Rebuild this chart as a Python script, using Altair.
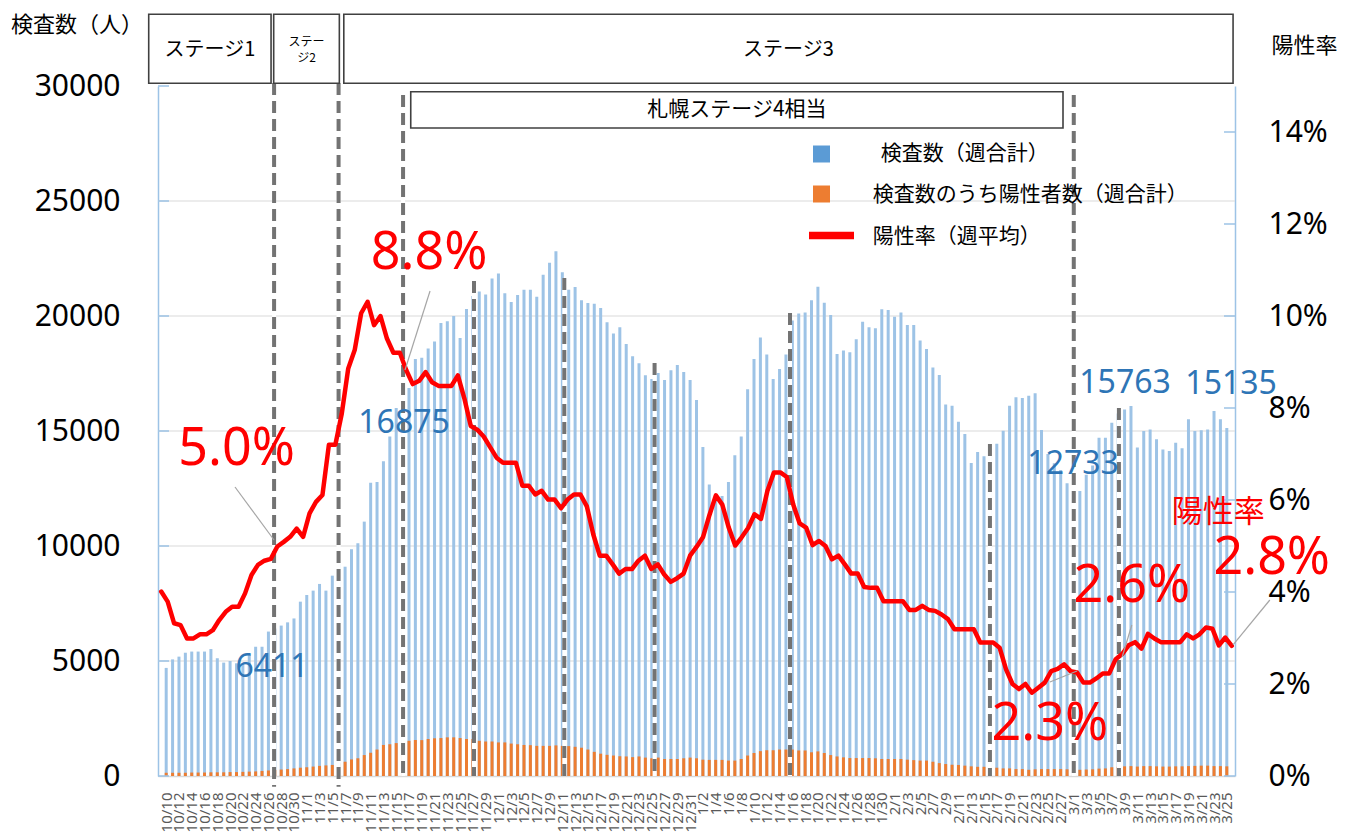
import altair as alt
import pandas as pd

N_DAYS = 167

# weekly total of tests (blue bars), one per day from 10/10 to 3/25
tests = [
    4700, 5070, 5190, 5360, 5410, 5410, 5410, 5520, 5120, 4930,
    5000, 4900, 4900, 5260, 5620, 5620, 6280, 6411, 6540, 6680,
    6850, 7580, 7870, 8060, 8350, 8060, 8710, 9220, 9100, 9860,
    10120, 11060, 12750, 12780, 13690, 14760, 16000, 15970, 16875, 18130,
    18180, 18590, 18890, 19700, 19770, 20000, 19040, 20300, 20870, 21060,
    20940, 21630, 21850, 20990, 20610, 20910, 21140, 21140, 20840, 21790,
    22310, 22810, 21900, 21140, 21260, 20680, 20560, 20530, 20350, 19730,
    19240, 19510, 18780, 18250, 17950, 17420, 17260, 17520, 17220, 17640,
    17870, 17570, 17220, 16350, 14300, 12670, 12170, 12170, 12780, 13950,
    14760, 16810, 18130, 19060, 18330, 17260, 17700, 18330, 19800, 20110,
    20150, 20690, 21270, 20580, 20040, 18350, 18500, 18420, 18990, 19750,
    19510, 19470, 20290, 20260, 19970, 20150, 19610, 19610, 18930, 18570,
    17760, 17430, 16150, 16100, 15400, 14870, 13610, 14090, 13900, 14040,
    14450, 15010, 16100, 16470, 16430, 16530, 16640, 15040, 14000, 13600,
    13300, 12733, 12400, 12390, 13100, 13500, 14710, 14710, 15360, 15763,
    15940, 16090, 14280, 15000, 15070, 14640, 14200, 14130, 14490, 14250,
    15510, 15000, 15030, 15070, 15870, 15510, 15135,
]

# weekly total of positives among tests (orange bars)
positives = [
    140, 140, 140, 140, 150, 150, 150, 160, 160, 160,
    170, 170, 180, 190, 200, 220, 240, 260, 280, 300,
    330, 360, 380, 410, 440, 460, 480, 550, 620, 720,
    770, 910, 1010, 1150, 1350, 1380, 1430, 1460, 1530, 1560,
    1560, 1610, 1640, 1650, 1680, 1680, 1650, 1610, 1610, 1530,
    1500, 1500, 1460, 1460, 1410, 1380, 1350, 1340, 1310, 1310,
    1310, 1330, 1310, 1300, 1270, 1230, 1150, 1050, 970, 920,
    890, 860, 850, 820, 850, 800, 770, 800, 740, 740,
    740, 770, 800, 770, 710, 700, 700, 700, 670, 670,
    740, 890, 1000, 1080, 1120, 1120, 1150, 1150, 1150, 1110,
    1110, 1030, 1070, 1000, 910, 850, 810, 780, 780, 780,
    780, 770, 740, 740, 740, 740, 710, 690, 670, 670,
    620, 560, 520, 490, 480, 450, 420, 400, 400, 390,
    360, 330, 330, 300, 300, 270, 290, 300, 300, 300,
    300, 290, 280, 270, 280, 290, 320, 330, 380, 400,
    420, 430, 410, 430, 430, 420, 410, 410, 420, 420,
    430, 440, 450, 450, 430, 430, 420,
]

# weekly average positivity rate (%), red line
rate = [
    4.01, 3.79, 3.32, 3.28, 2.99, 2.99, 3.08, 3.08, 3.17, 3.39,
    3.57, 3.68, 3.68, 3.97, 4.37, 4.59, 4.68, 4.72, 4.99, 5.09,
    5.20, 5.38, 5.20, 5.71, 5.96, 6.11, 7.20, 7.20, 7.88, 8.86,
    9.26, 10.06, 10.31, 9.80, 10.00, 9.51, 9.20, 9.20, 8.82, 8.52,
    8.59, 8.78, 8.56, 8.48, 8.48, 8.48, 8.71, 8.21, 7.61, 7.53,
    7.38, 7.15, 6.92, 6.81, 6.81, 6.81, 6.31, 6.31, 6.12, 6.20,
    6.01, 6.01, 5.82, 6.01, 6.12, 6.12, 5.86, 5.25, 4.79, 4.79,
    4.60, 4.40, 4.50, 4.50, 4.68, 4.79, 4.50, 4.60, 4.38, 4.22,
    4.30, 4.40, 4.79, 4.98, 5.19, 5.67, 6.10, 5.90, 5.40, 5.01,
    5.19, 5.39, 5.69, 5.59, 6.20, 6.60, 6.60, 6.50, 5.90, 5.49,
    5.40, 5.02, 5.11, 5.00, 4.71, 4.79, 4.60, 4.40, 4.40, 4.11,
    4.09, 4.09, 3.80, 3.80, 3.80, 3.80, 3.61, 3.61, 3.70, 3.61,
    3.59, 3.51, 3.41, 3.19, 3.19, 3.19, 3.19, 2.90, 2.90, 2.90,
    2.79, 2.32, 2.00, 1.89, 2.00, 1.81, 1.92, 2.03, 2.28, 2.33,
    2.43, 2.28, 2.25, 2.03, 2.03, 2.12, 2.23, 2.23, 2.54, 2.65,
    2.84, 2.91, 2.77, 3.09, 2.99, 2.91, 2.91, 2.91, 2.91, 3.08,
    2.99, 3.08, 3.23, 3.20, 2.84, 3.01, 2.83,
]

assert len(tests) == N_DAYS and len(positives) == N_DAYS and len(rate) == N_DAYS

dates = pd.date_range("2020-10-10", periods=N_DAYS)
tick_days = list(range(0, N_DAYS, 2))
tick_labels = [f"{dates[d].month}/{dates[d].day}" for d in tick_days]

left_ticks = [0, 5000, 10000, 15000, 20000, 25000, 30000]
grid_values = [5000, 10000, 15000, 20000, 25000]
right_ticks = [0, 2, 4, 6, 8, 10, 12, 14]

# stage-change dashed lines (day index, top in test units, bottom)
dash_day = [17.5, 27.5, 37.5, 48.5, 62.5, 76.5, 97.5, 128.5, 141.5, 148.5]
dash_top = [30130, 30130, 29610, 21520, 21650, 17960, 20130, 14430, 29610, 16000]
dash_bottom = [-470, -470, 0, 0, 0, 0, 0, 0, 0, 0]

# stage boxes
box_x1 = [-1.94, 17.44, 28.31, 38.69]
box_x2 = [17.03, 27.62, 166.2, 139.83]
box_y1 = [30117, 30117, 30117, 28174]
box_y2 = [33117, 33117, 33117, 29752]
stage_text = ["ステージ1", "ステー", "ジ2", "ステージ3", "札幌ステージ4相当"]
stage_tx = [7.55, 22.53, 22.53, 97.26, 89.27]
stage_ty = [31565, 31913, 31217, 31565, 28957]
stage_size = [20, 12, 12, 20, 21]

# red percentage call-outs
pct_text = ["5.0%", "8.8%", "2.3%", "2.6%", "2.8%"]
pct_x = [11.68, 41.53, 137.8, 150.5, 172.2]
pct_y = [14217, 22739, 2261, 8261, 9478]
leader_x1 = [11.44, 41.68, 137.8, 150.5, 171.9]
leader_y1 = [12565, 21087, 4087, 6565, 7652]
leader_x2 = [17.49, 37.8, 142.0, 149.0, 166.2]
leader_y2 = [10261, 17652, 4565, 5174, 5696]

# blue value labels
label_days = [17, 38, 141, 149, 166]
label_x = [17.18, 37.65, 141.4, 149.45, 165.9]
label_y = [4739, 15348, 13565, 17087, 17043]

W, H = 1077, 690

main = pd.DataFrame({"day": list(range(N_DAYS)), "tests": tests, "pos": positives, "rate": rate})

xs = alt.Scale(domain=[-0.5, N_DAYS - 0.5], nice=False, zero=False)
yl = alt.Scale(domain=[0, 30000], nice=False, zero=False)
yr = alt.Scale(domain=[0, 15], nice=False, zero=False)

def X(f):
    return alt.X(f, type="quantitative", scale=xs, axis=None)

def YL(f):
    return alt.Y(f, type="quantitative", scale=yl, axis=None)

def PX(f):
    return alt.X(f, type="quantitative", scale=None, axis=None)

def PY(f):
    return alt.Y(f, type="quantitative", scale=None, axis=None)

label_array = "[" + ",".join(f"'{t}'" for t in tick_labels) + "]"

x_axis = alt.Axis(
    orient="bottom", values=tick_days, labelExpr=label_array + "[round(datum.value/2)]",
    labelAngle=270, labelAlign="right", labelBaseline="middle",
    labelFont="Noto Sans", labelFontSize=15, labelColor="#595959", labelPadding=16,
    ticks=False, domainColor="#d9d9d9", domainWidth=1.5, grid=False, title=None,
    labelOverlap=False, labelFlush=False, labelBound=False,
)
left_axis = alt.Axis(
    orient="left", values=left_ticks, format="d", labelFont="Noto Sans", labelFontSize=30,
    labelColor="#000000", labelPadding=38, ticks=False, domainColor="#9dc3e6",
    domainWidth=1.5, grid=False, title=None, labelFlush=False, labelOverlap=False,
    labelBound=False,
)
right_axis = alt.Axis(
    orient="right", values=right_ticks, labelExpr="datum.value + '%'",
    labelFont="Noto Sans", labelFontSize=30, labelColor="#000000", labelPadding=33,
    ticks=False, domainColor="#9dc3e6", domainWidth=1.5, grid=False, title=None,
    labelFlush=False, labelOverlap=False, labelBound=False,
)

grid = alt.Chart(pd.DataFrame({"v": grid_values})).mark_rule(
    color="#d9d9d9", strokeWidth=1.2
).encode(x=alt.value(0), x2=alt.value(W), y=YL("v"))

blue = alt.Chart(main).mark_bar(color="#9dc3e6", size=3, orient="vertical").encode(
    x=alt.X("day:Q", scale=xs, axis=x_axis),
    y=alt.Y("tests:Q", scale=yl, axis=left_axis),
)
orange = alt.Chart(main).mark_bar(color="#ed7d31", size=3, orient="vertical").encode(
    x=X("day"), y=YL("pos")
)

dash_df = pd.DataFrame({"day": dash_day, "top": dash_top, "bottom": dash_bottom})
dash_white = alt.Chart(dash_df).mark_rule(color="#ffffff", strokeWidth=4).encode(
    x=X("day"), y=YL("top"), y2="bottom:Q"
)
dash_gray = alt.Chart(dash_df).mark_rule(
    color="#737373", strokeWidth=4, strokeDash=[12, 6]
).encode(x=X("day"), y=YL("top"), y2="bottom:Q")

line = alt.Chart(main).mark_line(
    color="#ff0000", strokeWidth=4.5, strokeJoin="round", strokeCap="round"
).encode(x=X("day"), y=alt.Y("rate:Q", scale=yr, axis=right_axis))

# inward tick marks of both value axes
lt = alt.Chart(pd.DataFrame({"v": left_ticks})).mark_rule(color="#9dc3e6", strokeWidth=1.5).encode(
    x=alt.value(0), x2=alt.value(11), y=YL("v")
)
rt = alt.Chart(pd.DataFrame({"v": right_ticks})).mark_rule(color="#9dc3e6", strokeWidth=1.5).encode(
    x=alt.value(W - 11), x2=alt.value(W), y=alt.Y("v:Q", scale=yr, axis=None)
)

box_df = pd.DataFrame({"x1": box_x1, "x2": box_x2, "y1": box_y1, "y2": box_y2})
boxes = alt.Chart(box_df).mark_rect(fill="#ffffff", stroke="#404040", strokeWidth=1.6).encode(
    x=X("x1"), x2="x2:Q", y=YL("y1"), y2="y2:Q"
)
stage_df = pd.DataFrame({"t": stage_text, "x": stage_tx, "y": stage_ty, "s": stage_size})
stage_txt = alt.Chart(stage_df).mark_text(
    font="Noto Sans CJK JP", color="#000000", align="center", baseline="middle"
).encode(x=X("x"), y=YL("y"), text="t:N", size=alt.Size("s:Q", scale=None, legend=None))

leader_df = pd.DataFrame({"x1": leader_x1, "y1": leader_y1, "x2": leader_x2, "y2": leader_y2})
leaders = alt.Chart(leader_df).mark_rule(color="#a6a6a6", strokeWidth=1.2).encode(
    x=X("x1"), y=YL("y1"), x2="x2:Q", y2="y2:Q"
)

pct_df = pd.DataFrame({"t": pct_text, "x": pct_x, "y": pct_y})
pct_txt = alt.Chart(pct_df).mark_text(
    font="Noto Sans", fontSize=52, color="#ff0000", align="center", baseline="middle"
).encode(x=X("x"), y=YL("y"), text="t:N")

rate_word = alt.Chart(pd.DataFrame({"t": ["陽性率"], "x": [163.9], "y": [11450]})).mark_text(
    font="Noto Sans CJK JP", fontSize=31, color="#ff0000", align="center", baseline="middle"
).encode(x=X("x"), y=YL("y"), text="t:N")

val_df = pd.DataFrame({"t": [str(tests[d]) for d in label_days], "x": label_x, "y": label_y})
val_txt = alt.Chart(val_df).mark_text(
    font="Noto Sans", fontSize=32, color="#2e75b6", align="center", baseline="middle"
).encode(x=X("x"), y=YL("y"), text="t:N")

# legend (pixel positions relative to the plot area)
leg_sq = alt.Chart(pd.DataFrame({"px": [663.5, 663.5], "py": [68, 108], "c": ["#5b9bd5", "#ed7d31"]})).mark_square(
    size=289, opacity=1
).encode(x=PX("px"), y=PY("py"), color=alt.Color("c:N", scale=None, legend=None))
leg_line = alt.Chart(pd.DataFrame({"px": [651], "px2": [696], "py": [149.5]})).mark_rule(
    color="#ff0000", strokeWidth=7.5
).encode(x=PX("px"), x2="px2:Q", y=PY("py"))
leg_txt_df = pd.DataFrame({
    "t": ["検査数（週合計）", "検査数のうち陽性者数（週合計）", "陽性率（週平均）", "検査数（人）", "陽性率"],
    "px": [722.7, 714.7, 714.7, -147, 1113.5],
    "py": [68, 109, 150.7, -61, -40],
    "s": [21, 21, 21, 22, 22],
})
leg_txt = alt.Chart(leg_txt_df).mark_text(
    font="Noto Sans CJK JP", color="#000000", align="left", baseline="middle"
).encode(x=PX("px"), y=PY("py"), text="t:N", size=alt.Size("s:Q", scale=None, legend=None))

chart = alt.layer(
    grid, blue, orange, dash_white, dash_gray, line, lt, rt, boxes, stage_txt,
    leaders, pct_txt, rate_word, val_txt, leg_sq, leg_line, leg_txt,
).resolve_scale(x="independent", y="independent").properties(
    width=W, height=H,
    autosize=alt.AutoSizeParams(type="none"),
    padding={"left": 150, "top": 78, "right": 115, "bottom": 70},
).configure_view(stroke=None)

chart.save("out.html", embed_options={"renderer": "svg", "actions": False})
